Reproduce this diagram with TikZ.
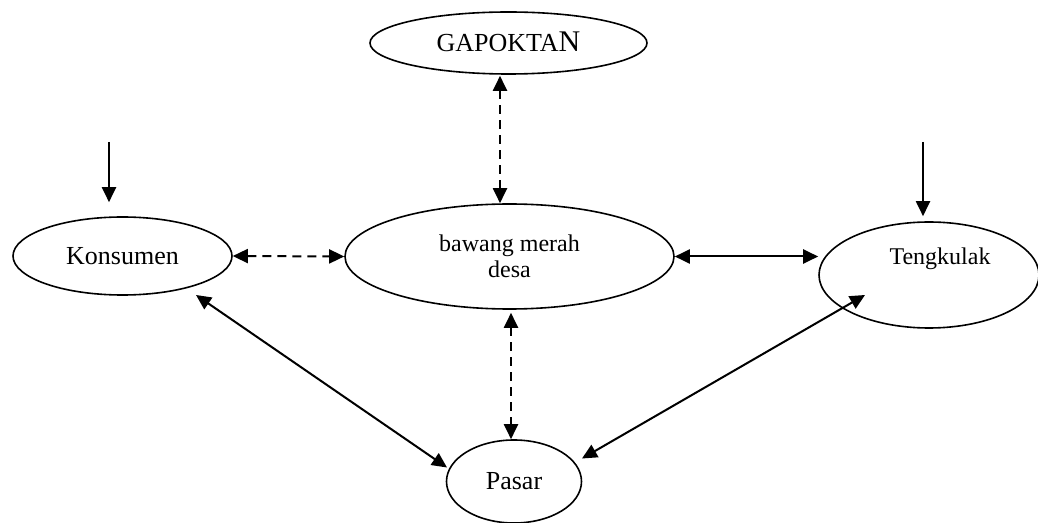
\documentclass[tikz,border=0pt]{standalone}
\usepackage{fontspec}
\setmainfont{Liberation Serif}
\usetikzlibrary{arrows.meta,shapes.geometric}
\tikzset{
  oval/.style={draw, ellipse, line width=0.8pt, inner sep=0pt},
  conn/.style={line width=1pt, -{Triangle[length=7.5pt,width=7pt]}},
  biconn/.style={line width=1pt, {Triangle[length=7.5pt,width=7pt]}-{Triangle[length=7.5pt,width=7pt]}},
  dashconn/.style={biconn, dash pattern=on 4.5pt off 3pt},
  lbl/.style={inner sep=0pt, anchor=base}
}
\begin{document}
\begin{tikzpicture}[x=0.5pt,y=-0.5pt]
\useasboundingbox (0,0) rectangle (1038,523);
% nodes
\node[oval, minimum width=138.5pt, minimum height=31pt] (gap) at (508.5,43) {};
\node[lbl] (gapt) at (508.5,52) {\fontsize{13pt}{15pt}\selectfont GAPOKTA\fontsize{15pt}{17pt}\selectfont N};
\node[oval, minimum width=109.5pt, minimum height=39pt, font=\fontsize{13pt}{15pt}\selectfont] (kons) at (122.5,256) {Konsumen};
\node[oval, minimum width=164.5pt, minimum height=52.5pt, align=center, font=\fontsize{12pt}{13pt}\selectfont] (bmd) at (509.5,256.5) {bawang merah\\desa};
\node[oval, minimum width=110pt, minimum height=53pt] (teng) at (929,275) {};
\node[lbl, font=\fontsize{12pt}{14pt}\selectfont] (tengt) at (940,265) {Tengkulak};
\node[oval, minimum width=67.5pt, minimum height=41.5pt, font=\fontsize{13pt}{15pt}\selectfont] (pasar) at (514,481.5) {Pasar};
% free start points
\coordinate (ka) at (109,142);
\coordinate (ta) at (923,142);
% connectors
\draw[conn] (ka) -- ([shift={(-13.5,-14)}]kons.north);
\draw[conn] (ta) -- ([shift={(-6,-5)}]teng.north);
\draw[dashconn] ([shift={(-8.5,1)}]gap.south) -- ([shift={(-9.5,0)}]bmd.north);
\draw[dashconn] (kons.east) -- (bmd.west);
\draw[biconn] (bmd.east) -- (teng.west |- bmd.east);
\draw[dashconn] ([shift={(1.5,3)}]bmd.south) -- ([shift={(-3,0)}]pasar.north);
\draw[biconn] ([shift={(73.5,39)}]kons.center) -- ([shift={(-67,-14)}]pasar.center);
\draw[biconn] ([shift={(-64,20)}]teng.center) -- ([shift={(68,-23)}]pasar.center);
\end{tikzpicture}
\end{document}
